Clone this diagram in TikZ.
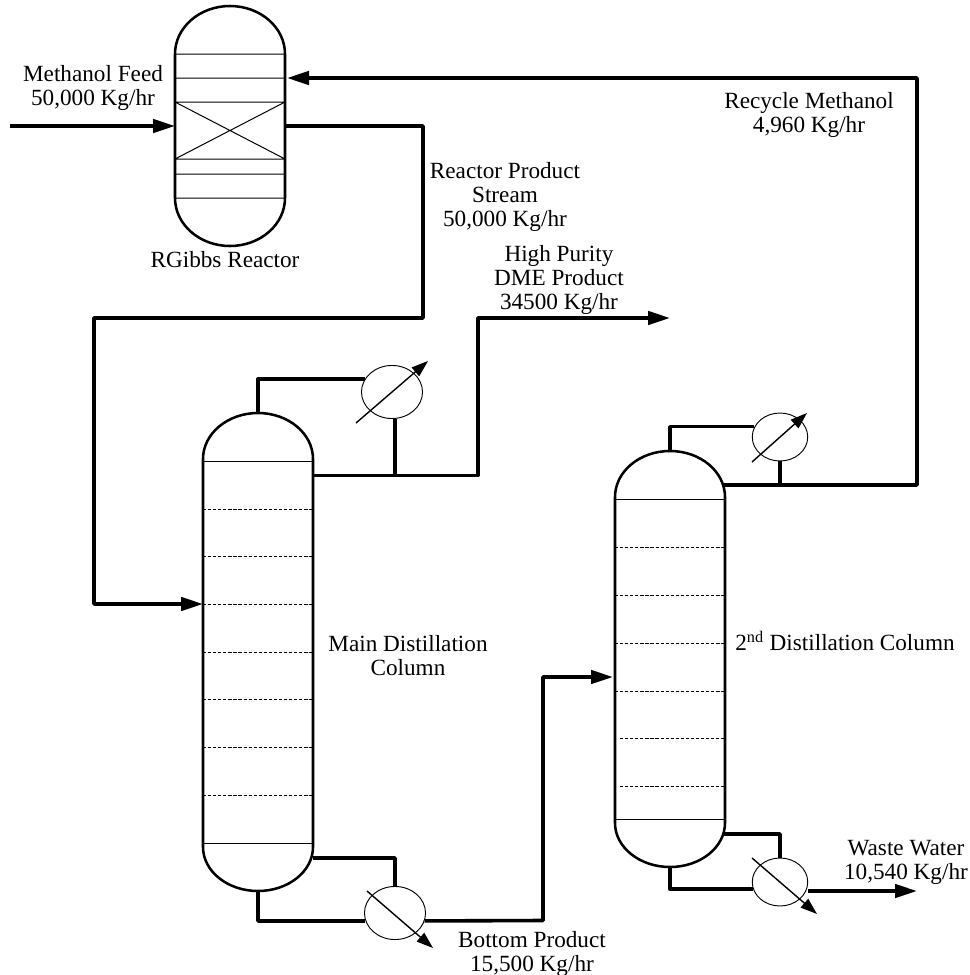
\documentclass[tikz,border=0pt]{standalone}
\usepackage{fontspec}
\setmainfont{Liberation Serif}
\usetikzlibrary{arrows.meta, positioning, shapes.geometric}

\begin{document}
\begin{tikzpicture}[
    x=0.75pt, y=-0.75pt,
    >={Triangle[length=16.5pt, width=10pt]},
    lbl/.style={align=center, inner sep=0pt, font=\fontsize{17.4}{18}\selectfont},
    shell/.style={line width=1.9pt},
    plate/.style={line width=0.75pt},
    tray/.style={line width=0.65pt, dash pattern=on 2.4pt off 1.4pt},
    pipe/.style={line width=2.7pt, line join=round},
    hx/.style={draw, ellipse, line width=0.7pt, inner sep=0pt},
    utility/.style={line width=1.05pt, -{Triangle[length=12.5pt, width=8.5pt]}}
]
\useasboundingbox (0,0) rectangle (970,975);

% reactor
\draw[shell] (175,54) arc[start angle=180, end angle=0, x radius=41.25pt, y radius=36pt]
    -- (285,198) arc[start angle=360, end angle=180, x radius=41.25pt, y radius=36pt] -- cycle;
\draw[plate] (175,54) -- (285,54) (175,78) -- (285,78) (175,102) -- (285,102)
    (175,159) -- (285,159) (175,174) -- (285,174) (175,198) -- (285,198)
    (175,102) -- (285,159) (175,159) -- (285,102);

% main column
\draw[shell] (203,459) arc[start angle=180, end angle=0, x radius=41.25pt, y radius=34.5pt]
    -- (313,847) arc[start angle=360, end angle=180, x radius=41.25pt, y radius=33pt] -- cycle;
\draw[plate] (203,461) -- (313,461) (203,843) -- (313,843);
\draw[tray] (203,509) -- (313,509) (203,556) -- (313,556) (203,604) -- (313,604)
    (203,652) -- (313,652) (203,699) -- (313,699) (203,747) -- (313,747) (203,795) -- (313,795);

% second column
\draw[shell] (615,497) arc[start angle=180, end angle=0, x radius=41.25pt, y radius=34.5pt]
    -- (725,823) arc[start angle=360, end angle=180, x radius=41.25pt, y radius=33pt] -- cycle;
\draw[plate] (615,499) -- (725,499) (615,819) -- (725,819);
\draw[tray] (615,547) -- (725,547) (615,595) -- (725,595) (615,643) -- (725,643)
    (615,691) -- (725,691) (620,738) -- (725,738) (620,786) -- (725,786);

% heat exchangers
\node[hx, minimum width=45.8pt, minimum height=39.8pt] (cond1) at (392,392) {};
\node[hx, minimum width=45.8pt, minimum height=39.8pt] (reb1) at (395,913) {};
\node[hx, minimum width=41.6pt, minimum height=36pt] (cond2) at (780,437) {};
\node[hx, minimum width=41.6pt, minimum height=36pt] (reb2) at (780,882) {};

% stream ends
\coordinate (feedin) at (10,126);
\coordinate (rctleft) at (175,126);
\coordinate (rctright) at (285,126);
\coordinate (rcttop) at (287,78);
\coordinate (col1feed) at (203,604);
\coordinate (col1side) at (313,475.5);
\coordinate (col1top) at (258,413);
\coordinate (col1low) at (313,858);
\coordinate (col1bot) at (258,891);
\coordinate (tee1) at (395,475.5);
\coordinate (dmeend) at (670,318);
\coordinate (col2feed) at (613,677);
\coordinate (col2side) at (722,485);
\coordinate (col2top) at (670,451);
\coordinate (col2low) at (723,834);
\coordinate (col2bot) at (670,867);
\coordinate (tee2) at (780,485);
\coordinate (wasteend) at (917,891);

% streams
\draw[pipe, ->] (feedin) -- (rctleft);
\draw[pipe, ->] (rctright) -- (423,126) -- (423,318) -- (94,318) -- (94,604) -- (col1feed);
\draw[pipe] (col1top) |- (cond1.155);
\draw[pipe] (tee1) -- (tee1 |- cond1.south);
\draw[pipe, ->] (col1side) -- (478,475.5) -- (478,318) -- (dmeend);
\draw[pipe] (col1low) -| (reb1.north);
\draw[pipe] (col1bot) |- (reb1.195);
\draw[pipe, ->] (reb1.345) -- (543,920.5) -- (543,677) -- (col2feed);
\draw[pipe] (col2top) |- (cond2.158);
\draw[pipe] (tee2) -- (cond2.south);
\draw[pipe, ->] (col2side) -- (917,485) -- (917,78) -- (rcttop);
\draw[pipe] (col2low) -| (reb2.north);
\draw[pipe] (col2bot) |- (reb2.195);
\draw[pipe, ->] (reb2.east |- wasteend) -- (wasteend);

% utility arrows
\coordinate (cond1a) at (356,423);
\coordinate (cond1b) at (428,361);
\coordinate (reb1a) at (367,891);
\coordinate (reb1b) at (433,948);
\coordinate (cond2a) at (752,462);
\coordinate (cond2b) at (807,413);
\coordinate (reb2a) at (752,858);
\coordinate (reb2b) at (817,914);
\draw[utility] (cond1a) -- (cond1b);
\draw[utility] (reb1a) -- (reb1b);
\draw[utility] (cond2a) -- (cond2b);
\draw[utility] (reb2a) -- (reb2b);

% labels
\node[lbl] (feedlbl) at (93,88) {Methanol Feed\\50,000 Kg/hr};
\node[lbl] (rgibbslbl) at (225,260) {RGibbs Reactor};
\node[lbl] (prodlbl) at (505,196.5) {Reactor Product\\Stream\\50,000 Kg/hr};
\node[lbl] (dmelbl) at (559,280) {High Purity\\DME Product\\34500 Kg/hr};
\node[lbl] (recyclbl) at (809,114.5) {Recycle Methanol\\4,960 Kg/hr};
\node[lbl] (mainlbl) at (408,656) {Main Distillation\\Column};
\node[lbl] (seclbl) at (845,641) {2\textsuperscript{nd} Distillation Column};
\node[lbl] (botlbl) at (532,954) {Bottom Product\\15,500 Kg/hr};
\node[lbl] (wastelbl) at (906,862) {Waste Water\\10,540 Kg/hr};

\end{tikzpicture}
\end{document}
